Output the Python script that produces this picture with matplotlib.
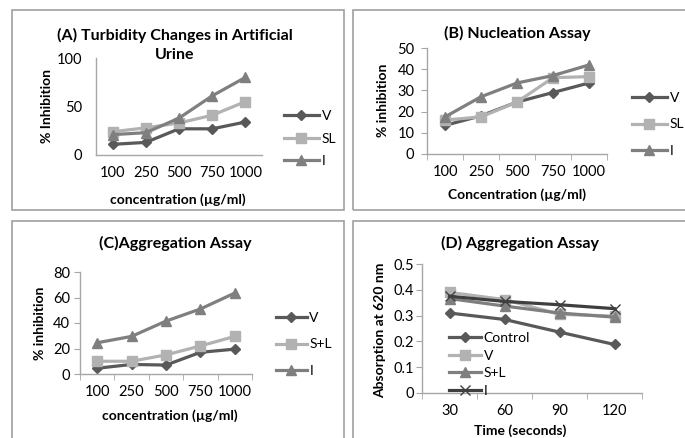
import matplotlib
matplotlib.use("Agg")
import matplotlib.pyplot as plt
from matplotlib.patches import Rectangle

plt.rcParams['font.family'] = ['Lato', 'DejaVu Sans']

# data
conc = ['100', '250', '500', '750', '1000']
time_s = ['30', '60', '90', '120']

turb_V = [11, 13, 27, 27, 34]
turb_SL = [24, 28, 33, 41, 55]
turb_I = [21, 23, 38, 61, 80]

nuc_V = [13.5, 18, 24.5, 29, 33.5]
nuc_SL = [16, 17.5, 24.5, 36, 36.5]
nuc_I = [17.5, 27, 33.5, 37, 42]

agg_V = [4.5, 7.5, 7, 17, 19.5]
agg_SL = [10, 10, 15, 22, 29.5]
agg_I = [24.5, 29.5, 41.5, 51, 63.5]

abs_control = [0.31, 0.285, 0.236, 0.188]
abs_V = [0.39, 0.362, 0.305, 0.298]
abs_SL = [0.366, 0.337, 0.31, 0.294]
abs_I = [0.375, 0.355, 0.342, 0.327]

DARK = '#595959'
LIGHT = '#b2b2b2'
MID = '#7f7f7f'
DARKEST = '#3f3f3f'
AXC = '#a6a6a6'

TITLE_FS = 11.5
LABEL_FS = 10
TICK_FS = 10.5
LEG_FS = 10

W, H = 685, 438
fig = plt.figure(figsize=(W / 100, H / 100), dpi=100)


def px(x0, y0, x1, y1):
    return [x0 / W, 1 - y1 / H, (x1 - x0) / W, (y1 - y0) / H]


# chart boxes
for (x0, y0, x1, y1) in [(12, 10, 344, 210), (353, 10, 700, 210),
                         (12, 221, 344, 460), (353, 221, 700, 460)]:
    fig.patches.append(Rectangle((x0 / W, 1 - y1 / H), (x1 - x0) / W, (y1 - y0) / H,
                                 transform=fig.transFigure, fill=False,
                                 edgecolor='#a0a0a0', lw=1.2))


def style(ax, ncat, ylim, yticks, ticks=True, ypad=4):
    ax.set_xlim(-0.5, ncat - 0.5)
    ax.set_ylim(*ylim)
    ax.set_yticks(yticks)
    for s in ['top', 'right']:
        ax.spines[s].set_visible(False)
    for s in ['left', 'bottom']:
        ax.spines[s].set_color(AXC)
        ax.spines[s].set_linewidth(1)
    ax.set_xticks(range(ncat))
    ax.tick_params(axis='x', length=0, pad=8, labelsize=TICK_FS)
    ax.set_xticks([i - 0.5 for i in range(ncat + 1)], minor=True)
    tl = 4 if ticks else 0
    ax.tick_params(axis='x', which='minor', length=tl, color=AXC, direction='out')
    ax.tick_params(axis='y', length=tl, color=AXC, pad=ypad, labelsize=TICK_FS)


def series(ax, vals, color, marker, ms, label):
    ax.plot(range(len(vals)), vals, color=color, lw=2.3, marker=marker,
            markersize=ms, markeredgecolor=color, label=label, clip_on=False)


def legend(ax, x, y, spacing, hl=2.5):
    lg = ax.legend(loc='upper left', bbox_to_anchor=(x / W, 1 - y / H),
                   bbox_transform=fig.transFigure, frameon=False, fontsize=LEG_FS,
                   handlelength=hl, handletextpad=0.2, labelspacing=spacing,
                   borderpad=0, borderaxespad=0)
    return lg


def label_text(x, y, s, rot=0):
    fig.text(x / W, 1 - y / H, s, rotation=rot, ha='center', va='center',
             fontsize=LABEL_FS, fontweight='bold')


def title_text(x, y, s):
    fig.text(x / W, 1 - y / H, s, ha='center', va='center',
             fontsize=TITLE_FS, fontweight='bold')


# (A)
ax = fig.add_axes(px(96, 58, 262, 155))
style(ax, 5, (0, 100), [0, 50, 100], ticks=False, ypad=10)
ax.set_xticklabels(conc)
series(ax, turb_V, DARK, 'D', 5.5, 'V')
series(ax, turb_SL, LIGHT, 's', 6.5, 'SL')
series(ax, turb_I, MID, '^', 7, 'I')
legend(ax, 284, 110, 0.76)
title_text(175, 35, '(A) Turbidity Changes in Artificial')
title_text(175, 55, 'Urine')
label_text(47, 106, '% Inhibition', 90)
label_text(178, 200, 'concentration (µg/ml)')

# (B)
ax = fig.add_axes(px(427, 48, 607, 154))
style(ax, 5, (0, 50), range(0, 51, 10), ypad=5)
ax.set_xticklabels(conc)
series(ax, nuc_V, DARK, 'D', 5.5, 'V')
series(ax, nuc_SL, LIGHT, 's', 6.5, 'SL')
series(ax, nuc_I, MID, '^', 7, 'I')
legend(ax, 632, 92, 1.04)
title_text(517, 33, '(B) Nucleation Assay')
label_text(383, 100, '% inhibition', 90)
label_text(517, 195, 'Concentration (µg/ml)')

# (C)
ax = fig.add_axes(px(80, 272, 252, 374))
style(ax, 5, (0, 80), range(0, 81, 20), ypad=3)
ax.set_xticklabels(conc)
series(ax, agg_V, DARK, 'D', 5.5, 'V')
series(ax, agg_SL, LIGHT, 's', 6.5, 'S+L')
series(ax, agg_I, MID, '^', 7, 'I')
legend(ax, 276, 312, 1.04, hl=2.2)
title_text(175, 243, '(C)Aggregation Assay')
label_text(40, 323, '% inhibition', 90)
label_text(170, 416, 'concentration (µg/ml)')

# (D)
ax = fig.add_axes(px(422, 264, 642, 393))
style(ax, 4, (0, 0.5), [0, 0.1, 0.2, 0.3, 0.4, 0.5], ypad=2)
ax.set_yticklabels(['0', '0.1', '0.2', '0.3', '0.4', '0.5'])
ax.set_xticklabels(time_s)
series(ax, abs_control, DARK, 'D', 5.5, 'Control')
series(ax, abs_V, LIGHT, 's', 6.5, 'V')
series(ax, abs_SL, MID, '^', 7, 'S+L')
series(ax, abs_I, DARKEST, 'x', 7, 'I')
legend(ax, 449, 332, 0.4, hl=2.3)
title_text(520, 243, '(D) Aggregation Assay')
label_text(380, 330, 'Absorption at 620 nm', 90)
label_text(520, 431, 'Time (seconds)')

fig.savefig('out.png', dpi=100, facecolor='white')
